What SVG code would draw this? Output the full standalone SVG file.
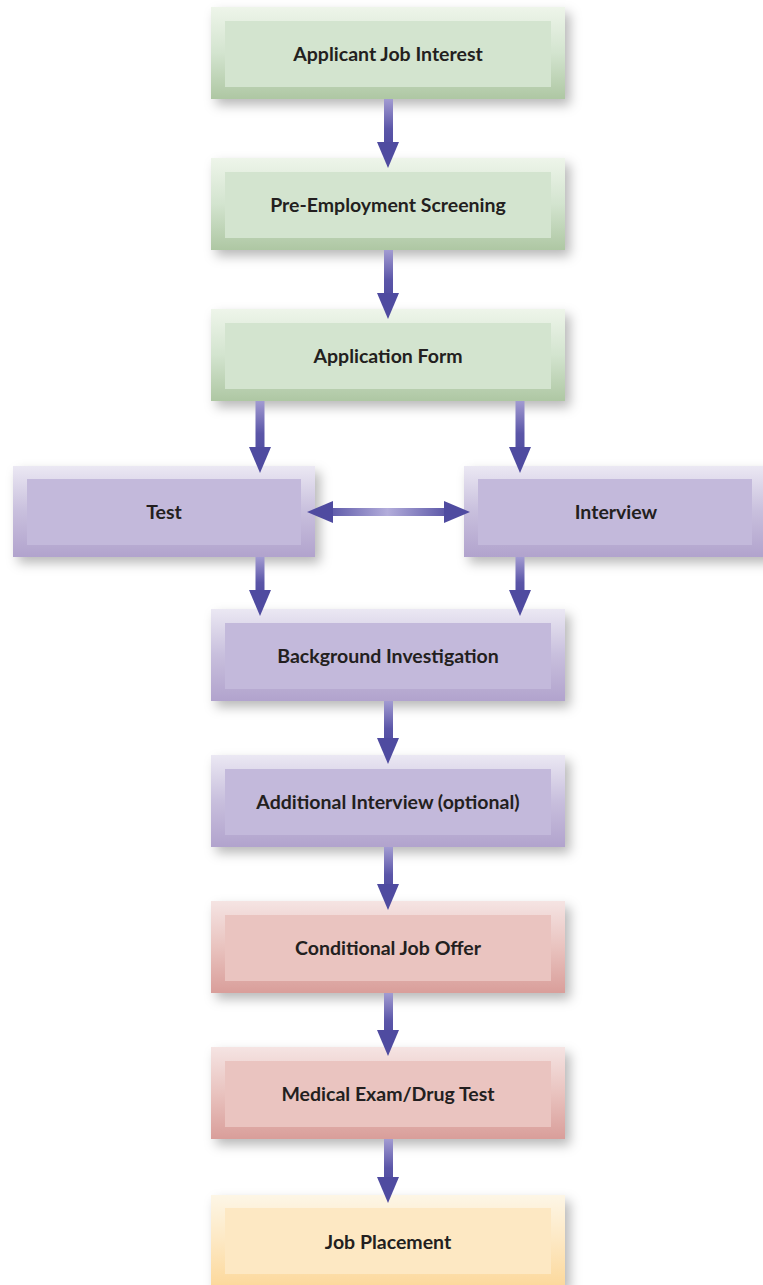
<svg xmlns="http://www.w3.org/2000/svg" width="763" height="1285" viewBox="0 0 763 1285">
<defs>
<filter id="sh" x="-10%" y="-20%" width="125%" height="150%">
<feDropShadow dx="5" dy="6" stdDeviation="6" flood-color="#000" flood-opacity="0.28"/>
</filter>
<linearGradient id="gG" x1="0" y1="0" x2="0" y2="1"><stop offset="0" stop-color="#eef5ea"/><stop offset="0.5" stop-color="#d3e4cf"/><stop offset="1" stop-color="#aec7a3"/></linearGradient>
<linearGradient id="gP" x1="0" y1="0" x2="0" y2="1"><stop offset="0" stop-color="#ebe8f3"/><stop offset="0.5" stop-color="#c8bfdd"/><stop offset="1" stop-color="#b1a3cd"/></linearGradient>
<linearGradient id="gR" x1="0" y1="0" x2="0" y2="1"><stop offset="0" stop-color="#f5e4e3"/><stop offset="0.5" stop-color="#e9c3bf"/><stop offset="1" stop-color="#d99e9a"/></linearGradient>
<linearGradient id="gY" x1="0" y1="0" x2="0" y2="1"><stop offset="0" stop-color="#fdf6e6"/><stop offset="0.5" stop-color="#fde8c3"/><stop offset="1" stop-color="#fcd89b"/></linearGradient>
<linearGradient id="sv" x1="0" y1="0" x2="0" y2="1"><stop offset="0" stop-color="#a29bd2"/><stop offset="0.6" stop-color="#5b56a8"/><stop offset="1" stop-color="#4f4ba0"/></linearGradient>
<linearGradient id="shz" x1="0" y1="0" x2="1" y2="0"><stop offset="0" stop-color="#4f4ba0"/><stop offset="0.5" stop-color="#b3addb"/><stop offset="1" stop-color="#4f4ba0"/></linearGradient>
</defs>
<style>
.t{font-family:Lato,"Liberation Sans",sans-serif;font-weight:bold;font-size:19.5px;fill:#231f20;text-anchor:middle;dominant-baseline:central}
.iG{fill:#d3e4cf}.iP{fill:#c3b9db}.iR{fill:#eac4c0}.iY{fill:#fde8c3}
.head{fill:#4f4ba0}
</style>
<g id="n1"><rect x="211" y="7" width="354" height="92" fill="url(#gG)" filter="url(#sh)"/><rect class="iG" x="225" y="21" width="326" height="66"/><text class="t" x="388" y="53">Applicant Job Interest</text></g>
<g id="n2"><rect x="211" y="158" width="354" height="92" fill="url(#gG)" filter="url(#sh)"/><rect class="iG" x="225" y="172" width="326" height="66"/><text class="t" x="388" y="204">Pre-Employment Screening</text></g>
<g id="n3"><rect x="211" y="309" width="354" height="92" fill="url(#gG)" filter="url(#sh)"/><rect class="iG" x="225" y="323" width="326" height="66"/><text class="t" x="388" y="355">Application Form</text></g>
<g id="n4"><rect x="13" y="466" width="302" height="91" fill="url(#gP)" filter="url(#sh)"/><rect class="iP" x="27" y="479" width="274" height="66"/><text class="t" x="164" y="511">Test</text></g>
<g id="n5"><rect x="464" y="466" width="305" height="91" fill="url(#gP)" filter="url(#sh)"/><rect class="iP" x="478" y="479" width="274" height="66"/><text class="t" x="616" y="511">Interview</text></g>
<g id="n6"><rect x="211" y="609" width="354" height="92" fill="url(#gP)" filter="url(#sh)"/><rect class="iP" x="225" y="623" width="326" height="66"/><text class="t" x="388" y="655">Background Investigation</text></g>
<g id="n7"><rect x="211" y="755" width="354" height="92" fill="url(#gP)" filter="url(#sh)"/><rect class="iP" x="225" y="769" width="326" height="66"/><text class="t" x="388" y="801">Additional Interview (optional)</text></g>
<g id="n8"><rect x="211" y="901" width="354" height="92" fill="url(#gR)" filter="url(#sh)"/><rect class="iR" x="225" y="915" width="326" height="66"/><text class="t" x="388" y="947">Conditional Job Offer</text></g>
<g id="n9"><rect x="211" y="1047" width="354" height="92" fill="url(#gR)" filter="url(#sh)"/><rect class="iR" x="225" y="1061" width="326" height="66"/><text class="t" x="388" y="1093">Medical Exam/Drug Test</text></g>
<g id="n10"><rect x="211" y="1195" width="354" height="92" fill="url(#gY)" filter="url(#sh)"/><rect class="iY" x="225" y="1208" width="326" height="66"/><text class="t" x="388" y="1241">Job Placement</text></g>
<g id="connectors">
<g id="a1"><rect x="384" y="99" width="9" height="50" fill="url(#sv)"/><polygon class="head" points="377,142 399,142 388,168"/></g>
<g id="a2"><rect x="384" y="250" width="9" height="50" fill="url(#sv)"/><polygon class="head" points="377,293 399,293 388,319"/></g>
<g id="a3"><rect x="255.5" y="401" width="9" height="54" fill="url(#sv)"/><polygon class="head" points="249,447 271,447 260,473"/></g>
<g id="a4"><rect x="515.5" y="401" width="9" height="54" fill="url(#sv)"/><polygon class="head" points="509,447 531,447 520,473"/></g>
<g id="a5"><rect x="320" y="508" width="135" height="8" fill="url(#shz)"/><polygon class="head" points="307,512 333,501 333,523"/><polygon class="head" points="470,512 444,501 444,523"/></g>
<g id="a6"><rect x="255.5" y="557" width="9" height="42" fill="url(#sv)"/><polygon class="head" points="249,590 271,590 260,616"/></g>
<g id="a7"><rect x="515.5" y="557" width="9" height="42" fill="url(#sv)"/><polygon class="head" points="509,590 531,590 520,616"/></g>
<g id="a8"><rect x="384" y="701" width="9" height="46" fill="url(#sv)"/><polygon class="head" points="377,738 399,738 388,764"/></g>
<g id="a9"><rect x="384" y="847" width="9" height="46" fill="url(#sv)"/><polygon class="head" points="377,884 399,884 388,910"/></g>
<g id="a10"><rect x="384" y="993" width="9" height="46" fill="url(#sv)"/><polygon class="head" points="377,1030 399,1030 388,1056"/></g>
<g id="a11"><rect x="384" y="1139" width="9" height="48" fill="url(#sv)"/><polygon class="head" points="377,1177 399,1177 388,1203"/></g>
</g>
</svg>
